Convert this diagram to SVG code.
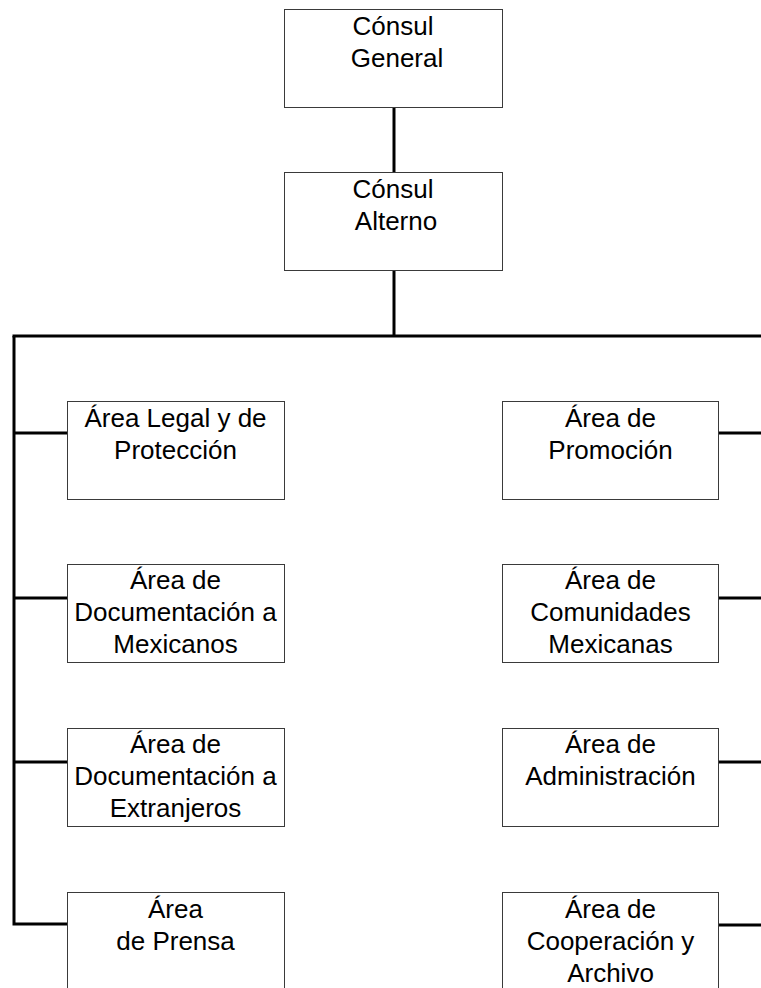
<svg xmlns="http://www.w3.org/2000/svg" width="761" height="988" viewBox="0 0 761 988">
<style>
.box{fill:#fff;stroke:#3a3a3a;stroke-width:1}
.t{font-family:"Liberation Sans",Arial,sans-serif;font-size:26px;fill:#000;text-anchor:middle}
.c{stroke:#000;stroke-width:3;fill:none}
</style>
<rect width="761" height="988" fill="#fff"/>
<g id="connectors">
<line class="c" x1="394" y1="107" x2="394" y2="172"/>
<line class="c" x1="394" y1="270" x2="394" y2="336"/>
<line class="c" x1="12.5" y1="336" x2="761" y2="336"/>
<polyline class="c" points="14,336 14,924 67,924"/>
<line class="c" x1="14" y1="433" x2="67" y2="433"/>
<line class="c" x1="14" y1="598" x2="67" y2="598"/>
<line class="c" x1="14" y1="762" x2="67" y2="762"/>
<line class="c" x1="719" y1="433" x2="761" y2="433"/>
<line class="c" x1="719" y1="598" x2="761" y2="598"/>
<line class="c" x1="719" y1="762" x2="761" y2="762"/>
<line class="c" x1="719" y1="925" x2="761" y2="925"/>
</g>
<g id="consul-general">
<rect class="box" x="284.5" y="9.5" width="218" height="98"/>
<text class="t" x="393" y="35">Cónsul</text>
<text class="t" x="397" y="67">General</text>
</g>
<g id="consul-alterno">
<rect class="box" x="284.5" y="172.5" width="218" height="98"/>
<text class="t" x="393" y="198">Cónsul</text>
<text class="t" x="396" y="230">Alterno</text>
</g>
<g id="area-legal">
<rect class="box" x="67.5" y="401.5" width="217" height="98"/>
<text class="t" x="175.5" y="427">Área Legal y de</text>
<text class="t" x="175.5" y="459">Protección</text>
</g>
<g id="area-doc-mex">
<rect class="box" x="67.5" y="564.5" width="217" height="98"/>
<text class="t" x="175.5" y="589">Área de</text>
<text class="t" x="175.5" y="621">Documentación a</text>
<text class="t" x="175.5" y="653">Mexicanos</text>
</g>
<g id="area-doc-ext">
<rect class="box" x="67.5" y="728.5" width="217" height="98"/>
<text class="t" x="175.5" y="753">Área de</text>
<text class="t" x="175.5" y="785">Documentación a</text>
<text class="t" x="175.5" y="817">Extranjeros</text>
</g>
<g id="area-prensa">
<rect class="box" x="67.5" y="892.5" width="217" height="110"/>
<text class="t" x="175.5" y="918">Área</text>
<text class="t" x="175.5" y="950">de Prensa</text>
</g>
<g id="area-promocion">
<rect class="box" x="502.5" y="401.5" width="216" height="98"/>
<text class="t" x="610.5" y="427">Área de</text>
<text class="t" x="610.5" y="459">Promoción</text>
</g>
<g id="area-comunidades">
<rect class="box" x="502.5" y="564.5" width="216" height="98"/>
<text class="t" x="610.5" y="589">Área de</text>
<text class="t" x="610.5" y="621">Comunidades</text>
<text class="t" x="610.5" y="653">Mexicanas</text>
</g>
<g id="area-administracion">
<rect class="box" x="502.5" y="728.5" width="216" height="98"/>
<text class="t" x="610.5" y="753">Área de</text>
<text class="t" x="610.5" y="785">Administración</text>
</g>
<g id="area-cooperacion">
<rect class="box" x="502.5" y="892.5" width="216" height="110"/>
<text class="t" x="610.5" y="918">Área de</text>
<text class="t" x="610.5" y="950">Cooperación y</text>
<text class="t" x="610.5" y="982">Archivo</text>
</g>
</svg>
